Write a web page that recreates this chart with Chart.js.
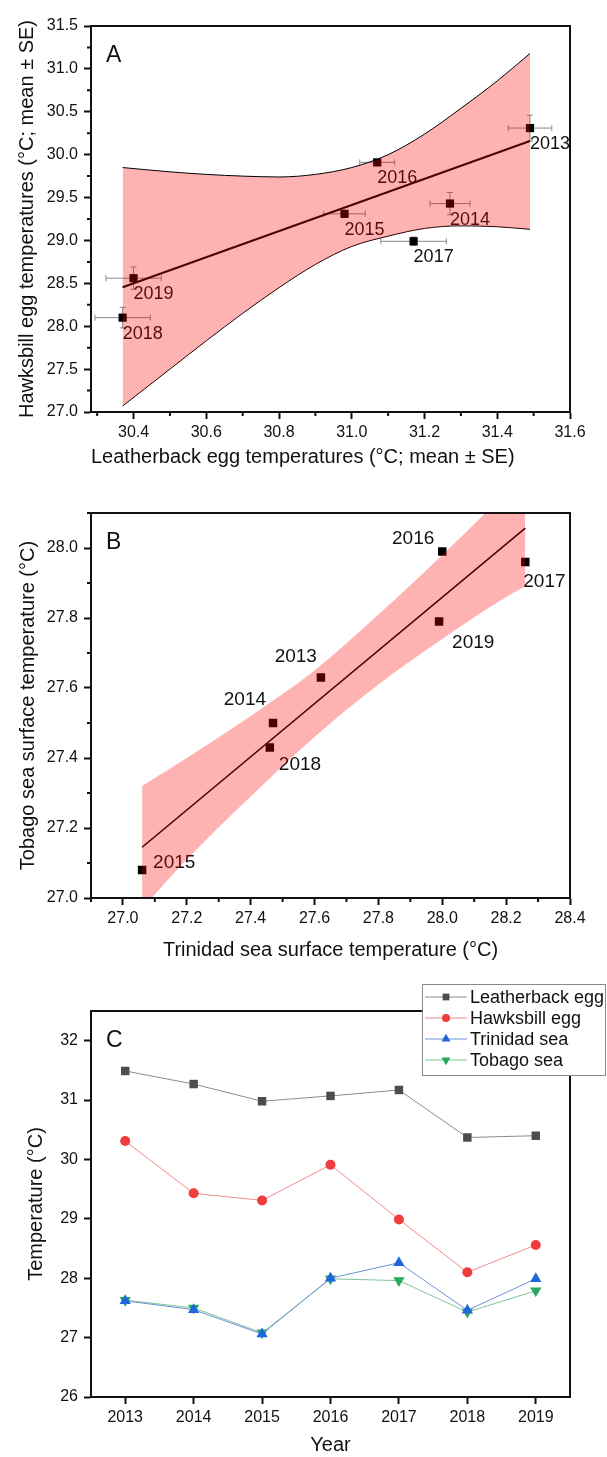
<!DOCTYPE html>
<html>
<head>
<meta charset="utf-8">
<script src="https://cdn.jsdelivr.net/npm/chart.js@4.4.1/dist/chart.umd.min.js"></script>
<style>
  body { margin: 0; background: #fff; width: 607px; height: 1457px; position: relative; overflow: hidden; }
  canvas { position: absolute; left: 0; }
</style>
</head>
<body>
<canvas id="chartA" width="607" height="490" style="top:0px"></canvas>
<canvas id="chartB" width="607" height="490" style="top:490px"></canvas>
<canvas id="chartC" width="607" height="477" style="top:980px"></canvas>
<script>
// years and measured means
const years = [2013, 2014, 2015, 2016, 2017, 2018, 2019];
const leatherback = [31.49, 31.27, 30.98, 31.07, 31.17, 30.37, 30.40];
const hawksbill = [30.31, 29.43, 29.31, 29.91, 28.99, 28.10, 28.56];
const leatherbackSE = [0.06, 0.055, 0.057, 0.048, 0.09, 0.076, 0.076];
const hawksbillSE = [0.15, 0.13, 0.04, 0.03, 0.05, 0.12, 0.13];
const trinidad = [27.62, 27.47, 27.06, 28.00, 28.26, 27.46, 27.99];
const tobago = [27.63, 27.50, 27.08, 27.99, 27.96, 27.43, 27.79];

// fitted lines and 95% bands
const fitAx = [30.37, 31.49];
const fitAy = [28.455, 30.16];
const bandAx = [30.37, 30.5, 30.6, 30.7, 30.8, 30.9, 31.0, 31.1, 31.2, 31.3, 31.4, 31.49];
const bandAupper = [29.85, 29.80, 29.77, 29.75, 29.74, 29.77, 29.85, 30.00, 30.24, 30.54, 30.86, 31.18];
const bandAlower = [27.07, 27.50, 27.83, 28.15, 28.45, 28.72, 28.93, 29.05, 29.14, 29.17, 29.16, 29.13];

const fitBx = [27.06, 28.26];
const fitBy = [27.145, 28.057];
const bandBx = [27.06, 27.2, 27.4, 27.6, 27.8, 28.0, 28.2, 28.26];
const bandBupper = [27.32, 27.40, 27.52, 27.65, 27.81, 27.98, 28.16, 28.22];
const bandBlower = [26.97, 27.11, 27.29, 27.46, 27.61, 27.74, 27.86, 27.89];

// tick values
const ticksAx = [30.4, 30.6, 30.8, 31.0, 31.2, 31.4, 31.6];
const minorAx = [30.3, 30.5, 30.7, 30.9, 31.1, 31.3, 31.5];
const ticksAy = [27.0, 27.5, 28.0, 28.5, 29.0, 29.5, 30.0, 30.5, 31.0, 31.5];
const minorAy = [27.25, 27.75, 28.25, 28.75, 29.25, 29.75, 30.25, 30.75, 31.25];
const ticksBx = [27.0, 27.2, 27.4, 27.6, 27.8, 28.0, 28.2, 28.4];
const minorBx = [26.9, 27.1, 27.3, 27.5, 27.7, 27.9, 28.1, 28.3];
const ticksBy = [27.0, 27.2, 27.4, 27.6, 27.8, 28.0];
const minorBy = [27.1, 27.3, 27.5, 27.7, 27.9, 28.1];
const ticksCx = [2013, 2014, 2015, 2016, 2017, 2018, 2019];
const ticksCy = [26, 27, 28, 29, 30, 31, 32];

// where the year labels sit next to each point (px)
const labelPosA = years.map(() => ({ dx: 0, dy: 16, align: 'left' }));
const labelPosB = [
    { dx: -4, dy: -21, align: 'right' },
    { dx: -7, dy: -23, align: 'right' },
    { dx: 11, dy: -7, align: 'left' },
    { dx: -8, dy: -13, align: 'right' },
    { dx: -2, dy: 20, align: 'left' },
    { dx: 9, dy: 17, align: 'left' },
    { dx: 13, dy: 21, align: 'left' }
];

const FONT = "'Liberation Sans', Arial, sans-serif";
const INK = '#111';
Chart.defaults.font.family = FONT;
Chart.defaults.color = INK;
Chart.defaults.animation = false;
Chart.defaults.plugins.legend.display = false;
Chart.defaults.plugins.tooltip.enabled = false;

const pts = (xs, ys) => xs.map((x, i) => ({ x: x, y: ys[i] }));

function makeAxis(o) {
    return {
        type: 'linear',
        position: o.position,
        min: o.min,
        max: o.max,
        afterBuildTicks: s => { s.ticks = o.ticks.map(v => ({ value: v })); },
        afterFit: s => {
            if (o.position === 'left') s.width = o.size; else s.height = o.size;
        },
        ticks: {
            font: { size: 16 },
            color: INK,
            padding: o.position === 'left' ? 6 : 4,
            autoSkip: false,
            maxRotation: 0,
            callback: v => o.fmt(v)
        },
        grid: { drawOnChartArea: false, drawTicks: true, tickLength: 7, tickWidth: 2, tickColor: INK },
        border: { display: true, color: INK, width: 2 },
        title: {
            display: true,
            text: o.title,
            font: { size: 20 },
            color: INK,
            align: o.titleAlign || 'center',
            padding: o.titlePad
        }
    };
}

const extras = {
    id: 'extras',
    beforeDatasetsDraw(chart, args, opt) {
        const ctx = chart.ctx;
        const x = chart.scales.x, y = chart.scales.y;
        ctx.save();
        // error bars
        if (opt.errors) {
            const e = opt.errors;
            ctx.strokeStyle = '#8a8a8a';
            ctx.lineWidth = 1;
            e.x.forEach((vx, i) => {
                const vy = e.y[i];
                const cx = x.getPixelForValue(vx), cy = y.getPixelForValue(vy);
                const x0 = x.getPixelForValue(vx - e.sx[i]), x1 = x.getPixelForValue(vx + e.sx[i]);
                const y0 = y.getPixelForValue(vy - e.sy[i]), y1 = y.getPixelForValue(vy + e.sy[i]);
                ctx.beginPath();
                ctx.moveTo(x0, cy); ctx.lineTo(x1, cy);
                ctx.moveTo(x0, cy - 3); ctx.lineTo(x0, cy + 3);
                ctx.moveTo(x1, cy - 3); ctx.lineTo(x1, cy + 3);
                ctx.moveTo(cx, y0); ctx.lineTo(cx, y1);
                ctx.moveTo(cx - 3, y0); ctx.lineTo(cx + 3, y0);
                ctx.moveTo(cx - 3, y1); ctx.lineTo(cx + 3, y1);
                ctx.stroke();
            });
        }
        // year labels
        if (opt.labels) {
            const l = opt.labels;
            ctx.fillStyle = INK;
            ctx.font = l.size + 'px ' + FONT;
            ctx.textBaseline = 'middle';
            l.x.forEach((vx, i) => {
                const p = l.pos[i];
                ctx.textAlign = p.align;
                ctx.fillText(String(l.text[i]), x.getPixelForValue(vx) + p.dx, y.getPixelForValue(l.y[i]) + p.dy);
            });
        }
        ctx.restore();
    },
    afterDraw(chart, args, opt) {
        const ctx = chart.ctx;
        const a = chart.chartArea;
        const x = chart.scales.x, y = chart.scales.y;
        ctx.save();
        ctx.strokeStyle = INK;
        ctx.lineWidth = 2;
        ctx.strokeRect(a.left, a.top, a.right - a.left, a.bottom - a.top);
        // minor ticks
        ctx.beginPath();
        (opt.minorX || []).forEach(v => {
            const px = x.getPixelForValue(v);
            ctx.moveTo(px, a.bottom); ctx.lineTo(px, a.bottom + 4);
        });
        (opt.minorY || []).forEach(v => {
            const py = y.getPixelForValue(v);
            ctx.moveTo(a.left - 4, py); ctx.lineTo(a.left, py);
        });
        ctx.stroke();
        // panel letter
        ctx.fillStyle = INK;
        ctx.font = '23px ' + FONT;
        ctx.textAlign = 'left';
        ctx.textBaseline = 'alphabetic';
        ctx.fillText(opt.letter, a.left + 15, a.top + 36);
        // legend box
        if (opt.legend) {
            const g = opt.legend;
            ctx.fillStyle = '#fff';
            ctx.fillRect(g.x, g.y, g.w, g.h);
            ctx.strokeStyle = '#888';
            ctx.lineWidth = 1;
            ctx.strokeRect(g.x + 0.5, g.y + 0.5, g.w - 1, g.h - 1);
            chart.data.datasets.forEach((ds, i) => {
                const cy = g.y + 13 + i * 21;
                ctx.strokeStyle = ds.borderColor;
                ctx.lineWidth = 1;
                ctx.beginPath();
                ctx.moveTo(g.x + 3, cy); ctx.lineTo(g.x + 45, cy);
                ctx.stroke();
                ctx.fillStyle = ds.pointBackgroundColor;
                Chart.helpers.drawPoint(ctx, {
                    pointStyle: ds.pointStyle, radius: ds.pointRadius * 0.8,
                    rotation: ds.pointRotation || 0, borderWidth: 0
                }, g.x + 24, cy);
                ctx.fillStyle = INK;
                ctx.font = '18px ' + FONT;
                ctx.textAlign = 'left';
                ctx.textBaseline = 'middle';
                ctx.fillText(ds.label, g.x + 48, cy + 1);
            });
        }
        ctx.restore();
    }
};

const PINK = 'rgba(255, 0, 0, 0.3)';

// Panel A
new Chart(document.getElementById('chartA'), {
    type: 'scatter',
    data: {
        datasets: [
            { label: 'points', data: pts(leatherback, hawksbill), pointStyle: 'rect', pointRadius: 5.8,
              backgroundColor: '#000', borderWidth: 0, order: 2 },
            { label: 'fit', data: pts(fitAx, fitAy), showLine: true, pointRadius: 0,
              borderColor: '#000', borderWidth: 2, order: 1 },
            { label: 'upper', data: pts(bandAx, bandAupper), showLine: true, pointRadius: 0,
              borderColor: '#000', borderWidth: 1, cubicInterpolationMode: 'monotone',
              fill: '+1', backgroundColor: PINK, order: 0 },
            { label: 'lower', data: pts(bandAx, bandAlower), showLine: true, pointRadius: 0,
              borderColor: '#000', borderWidth: 1, cubicInterpolationMode: 'monotone',
              fill: false, order: 0 }
        ]
    },
    options: {
        responsive: false,
        layout: { padding: { left: 0, top: 26, right: 37, bottom: 0 } },
        scales: {
            x: makeAxis({ position: 'bottom', min: 30.283, max: 31.6, ticks: ticksAx, size: 78,
                fmt: v => v.toFixed(1), title: 'Leatherback egg temperatures (\u00B0C; mean \u00B1 SE)',
                titleAlign: 'start', titlePad: { top: 4, bottom: 21 } }),
            y: makeAxis({ position: 'left', min: 27, max: 31.5, ticks: ticksAy, size: 91,
                fmt: v => v.toFixed(1), title: 'Hawksbill egg temperatures (\u00B0C; mean \u00B1 SE)',
                titlePad: { top: 15, bottom: 0 } })
        },
        plugins: {
            extras: {
                letter: 'A', minorX: minorAx, minorY: minorAy,
                errors: { x: leatherback, y: hawksbill, sx: leatherbackSE, sy: hawksbillSE },
                labels: { x: leatherback, y: hawksbill, text: years, pos: labelPosA, size: 18 }
            }
        }
    },
    plugins: [extras]
});

// Panel B
new Chart(document.getElementById('chartB'), {
    type: 'scatter',
    data: {
        datasets: [
            { label: 'points', data: pts(trinidad, tobago), pointStyle: 'rect', pointRadius: 6,
              backgroundColor: '#000', borderWidth: 0, order: 2 },
            { label: 'fit', data: pts(fitBx, fitBy), showLine: true, pointRadius: 0,
              borderColor: '#000', borderWidth: 1.6, order: 1 },
            { label: 'upper', data: pts(bandBx, bandBupper), showLine: true, pointRadius: 0,
              borderWidth: 0, borderColor: 'rgba(0,0,0,0)', cubicInterpolationMode: 'monotone',
              fill: '+1', backgroundColor: PINK, order: 0 },
            { label: 'lower', data: pts(bandBx, bandBlower), showLine: true, pointRadius: 0,
              borderWidth: 0, borderColor: 'rgba(0,0,0,0)', cubicInterpolationMode: 'monotone',
              fill: false, order: 0 }
        ]
    },
    options: {
        responsive: false,
        layout: { padding: { left: 0, top: 23, right: 37, bottom: 0 } },
        scales: {
            x: makeAxis({ position: 'bottom', min: 26.9, max: 28.4, ticks: ticksBx, size: 82,
                fmt: v => v.toFixed(1), title: 'Trinidad sea surface temperature (\u00B0C)',
                titlePad: { top: 4, bottom: 18 } }),
            y: makeAxis({ position: 'left', min: 27.0, max: 28.1, ticks: ticksBy, size: 91,
                fmt: v => v.toFixed(1), title: 'Tobago sea surface temperature (\u00B0C)',
                titlePad: { top: 16, bottom: 0 } })
        },
        plugins: {
            extras: {
                letter: 'B', minorX: minorBx, minorY: minorBy,
                labels: { x: trinidad, y: tobago, text: years, pos: labelPosB, size: 19 }
            }
        }
    },
    plugins: [extras]
});

// Panel C
new Chart(document.getElementById('chartC'), {
    type: 'scatter',
    data: {
        datasets: [
            { label: 'Leatherback egg', data: pts(years, leatherback), showLine: true,
              borderColor: '#8c8c8c', borderWidth: 1, pointStyle: 'rect', pointRadius: 6,
              pointBackgroundColor: '#4d4d4d', pointBorderWidth: 0 },
            { label: 'Hawksbill egg', data: pts(years, hawksbill), showLine: true,
              borderColor: '#f08a8a', borderWidth: 1, pointStyle: 'circle', pointRadius: 5,
              pointBackgroundColor: '#f03c3c', pointBorderWidth: 0 },
            { label: 'Trinidad sea', data: pts(years, trinidad), showLine: true,
              borderColor: '#6d94d6', borderWidth: 1, pointStyle: 'triangle', pointRadius: 6.5,
              pointBackgroundColor: '#1f66dd', pointBorderWidth: 0 },
            { label: 'Tobago sea', data: pts(years, tobago), showLine: true,
              borderColor: '#7fc49a', borderWidth: 1, pointStyle: 'triangle', pointRotation: 180,
              pointRadius: 6.5, pointBackgroundColor: '#2aa85e', pointBorderWidth: 0 }
        ]
    },
    options: {
        responsive: false,
        layout: { padding: { left: 0, top: 31, right: 37, bottom: 0 } },
        scales: {
            x: makeAxis({ position: 'bottom', min: 2012.5, max: 2019.5, ticks: ticksCx, size: 60,
                fmt: v => String(v), title: 'Year', titlePad: { top: 4, bottom: 0 } }),
            y: makeAxis({ position: 'left', min: 26, max: 32.5, ticks: ticksCy, size: 91,
                fmt: v => String(v), title: 'Temperature (\u00B0C)', titlePad: { top: 24, bottom: 0 } })
        },
        plugins: {
            extras: {
                letter: 'C',
                legend: { x: 422, y: 4, w: 184, h: 92 }
            }
        }
    },
    plugins: [extras]
});
</script>
</body>
</html>
